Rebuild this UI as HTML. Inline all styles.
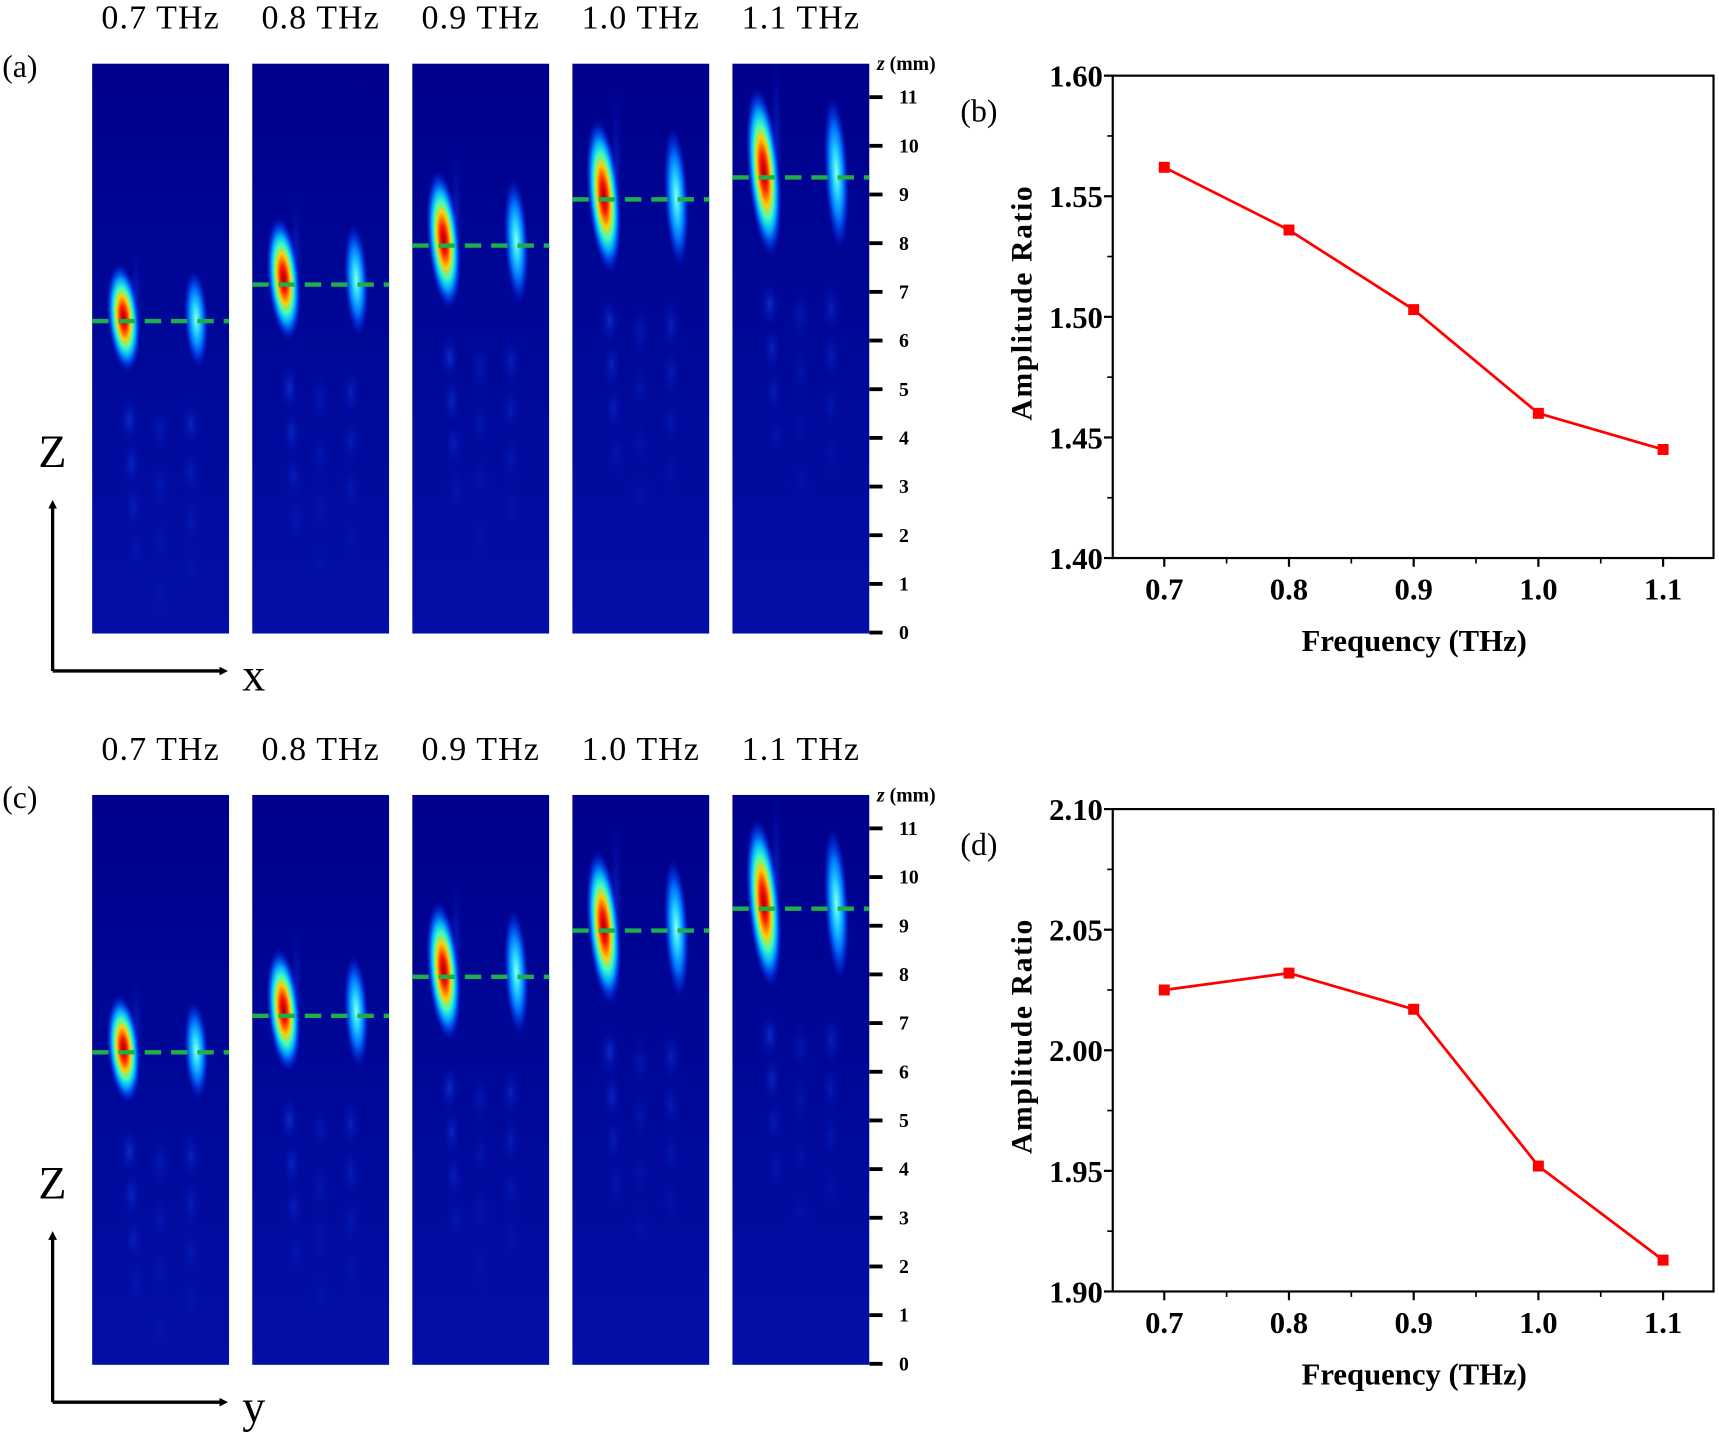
<!DOCTYPE html>
<html><head><meta charset="utf-8"><style>
html,body{margin:0;padding:0;background:#fff;}
svg{display:block;}
</style></head><body>
<svg id="fig" width="1719" height="1434" viewBox="0 0 1568 1308" xmlns="http://www.w3.org/2000/svg">
<defs>
<linearGradient id="bg" x1="0" y1="0" x2="0" y2="1">
<stop offset="0" stop-color="#00008c"/><stop offset="0.65" stop-color="#000a9c"/><stop offset="1" stop-color="#040fa6"/>
</linearGradient>
<radialGradient id="mainG">
<stop offset="0" stop-color="#a00000"/><stop offset="0.2" stop-color="#ff1a00"/>
<stop offset="0.4" stop-color="#ffd000"/><stop offset="0.55" stop-color="#40ffc0"/>
<stop offset="0.7" stop-color="#00a8ff"/><stop offset="0.85" stop-color="#0040f0" stop-opacity="0.7"/>
<stop offset="1" stop-color="#0010c0" stop-opacity="0"/>
</radialGradient>
<radialGradient id="secG">
<stop offset="0" stop-color="#90ffe8"/><stop offset="0.3" stop-color="#20d0ff"/>
<stop offset="0.6" stop-color="#0070ff"/><stop offset="0.85" stop-color="#0030e0" stop-opacity="0.5"/>
<stop offset="1" stop-color="#0010c0" stop-opacity="0"/>
</radialGradient>
<radialGradient id="faintG">
<stop offset="0" stop-color="#1050ff" stop-opacity="0.8"/><stop offset="1" stop-color="#0010c0" stop-opacity="0"/>
</radialGradient>
<marker id="arr" markerWidth="8" markerHeight="8" refX="4" refY="4" orient="auto" markerUnits="userSpaceOnUse" viewBox="0 0 8 8">
<path d="M0,0 L8,4 L0,8 z" fill="#000"/></marker>
</defs>
<g id="root"></g>
</svg>
<script>
// ---- data ----
const freqLabels = ["0.7 THz","0.8 THz","0.9 THz","1.0 THz","1.1 THz"];
const freqs = [0.7, 0.8, 0.9, 1.0, 1.1];
const focusZ = [6.4, 7.2, 8.0, 8.9, 9.4];
const focusZy = [6.4, 7.15, 7.95, 8.9, 9.35];
const ratioB = [1.562, 1.536, 1.503, 1.460, 1.445];
const ratioD = [2.025, 2.032, 2.017, 1.952, 1.913];
const zTicks = [0,1,2,3,4,5,6,7,8,9,10,11];
const xTickLabels = ["0.7","0.8","0.9","1.0","1.1"];
const yTicksB = [1.40,1.45,1.50,1.55,1.60];
const yTicksD = [1.90,1.95,2.00,2.05,2.10];

const NS = "http://www.w3.org/2000/svg";
const root = document.getElementById("root");
function mk(tag, attrs, parent, text){
  const e = document.createElementNS(NS, tag);
  for (const k in attrs) e.setAttribute(k, attrs[k]);
  if (text !== undefined) e.textContent = text;
  (parent||root).appendChild(e);
  return e;
}
const serif = '"Liberation Serif", serif';
const panelX = [84,230,376,522,668];
const PW = 125;

function heatRow(top, label, axisLetter, focusArr, rowName){
  const g = mk("g", {});
  
  
  const bottom = top + 520;
  const zy = z => (top+519) - z*44.4;
  freqLabels.forEach((t,i)=>{
    const tx = mk("text",{x:panelX[i]+PW/2, y:top-32, "font-family":serif, "font-size":31, "letter-spacing":"1", "text-anchor":"middle"}, g, t);
    
    
  });
  const lb = mk("text",{x:2,y:top+12,"font-family":serif,"font-size":29},g,label);
  
  
  freqs.forEach((f,i)=>{
    const x0 = panelX[i];
    const pg = mk("g",{},g);
    
    
    const cid = rowName+"clip"+i;
    const cp = mk("clipPath",{id:cid},pg);
    mk("rect",{x:x0,y:top,width:PW,height:520},cp);
    const ig = mk("g",{"clip-path":"url(#"+cid+")"},pg);
    mk("rect",{x:x0,y:top,width:PW,height:520,fill:"url(#bg)"},ig);
    const cy = zy(focusArr[i]);
    const ry = 50 + i*7;
    for (let k=1;k<=4;k++){
      mk("ellipse",{cx:x0+32+k*2, cy:cy+ry+k*40, rx:9, ry:22, fill:"url(#faintG)", opacity:0.75-k*0.13},ig);
      mk("ellipse",{cx:x0+90, cy:cy+ry+k*44, rx:9, ry:24, fill:"url(#faintG)", opacity:0.55-k*0.1},ig);
      mk("ellipse",{cx:x0+62, cy:cy+ry+k*50, rx:10, ry:26, fill:"url(#faintG)", opacity:0.35-k*0.06},ig);
    }
    mk("ellipse",{cx:x0+40, cy:cy-ry*0.3, rx:6, ry:ry*1.2, fill:"url(#faintG)", opacity:0.5},ig);
    mk("ellipse",{cx:x0+29, cy:cy-3, rx:15, ry:ry, fill:"url(#mainG)", transform:`rotate(-5 ${x0+29} ${cy})`},ig);
    mk("ellipse",{cx:x0+95, cy:cy-2, rx:11, ry:ry*0.9, fill:"url(#secG)", transform:`rotate(-3 ${x0+95} ${cy})`},ig);
    const fl = mk("line",{x1:x0, x2:x0+PW, y1:zy(focusZy[i]), y2:zy(focusZy[i]), stroke:"#1db04a", "stroke-width":4, "stroke-dasharray":"15,9"},pg);
    
    
  });
  const ax = mk("g",{},g);
  
  
  zTicks.forEach(z=>{
    mk("line",{x1:793,x2:805,y1:zy(z),y2:zy(z),stroke:"#000","stroke-width":3.5},ax);
    mk("text",{x:820,y:zy(z)+6,"font-family":serif,"font-size":18,"font-weight":"bold"},ax,String(z));
  });
  const zt = mk("text",{x:800,y:top+6,"font-family":serif,"font-size":18,"font-weight":"bold"},ax);
  mk("tspan",{"font-style":"italic"},zt,"z");
  mk("tspan",{},zt," (mm)");
  const ca = mk("g",{},g);
  
  
  mk("line",{x1:48,y1:bottom+34,x2:48,y2:bottom-118,stroke:"#000","stroke-width":3,"marker-end":"url(#arr)"},ca);
  mk("line",{x1:48,y1:bottom+34,x2:204,y2:bottom+34,stroke:"#000","stroke-width":3,"marker-end":"url(#arr)"},ca);
  mk("text",{x:35,y:bottom-152,"font-family":serif,"font-size":42},ca,"Z");
  mk("text",{x:221,y:bottom+52,"font-family":serif,"font-size":42},ca,axisLetter);
}

function linePlot(top, ticks, vals, label, name){
  const g = mk("g",{});
  
  
  const L=1015, R=1563, T=top, B=top+440;
  const x = f => 1062 + (f-0.7)/0.1*113.75;
  const y0 = ticks[0], y1 = ticks[ticks.length-1];
  const y = v => B - (v-y0)/(y1-y0)*(B-T);
  mk("rect",{x:L,y:T,width:R-L,height:B-T,fill:"none",stroke:"#000","stroke-width":2},g);
  ticks.forEach((t,i)=>{
    mk("line",{x1:L-8,x2:L,y1:y(t),y2:y(t),stroke:"#000","stroke-width":2},g);
    mk("text",{x:L-9,y:y(t)+10,"font-family":serif,"font-size":28,"font-weight":"bold","text-anchor":"end"},g,t.toFixed(2));
    if (i<ticks.length-1){ const m=(t+ticks[i+1])/2; mk("line",{x1:L-5,x2:L,y1:y(m),y2:y(m),stroke:"#000","stroke-width":1.5},g); }
  });
  freqs.forEach((f,i)=>{
    mk("line",{x1:x(f),x2:x(f),y1:B,y2:B+8,stroke:"#000","stroke-width":2},g);
    mk("text",{x:x(f),y:B+38,"font-family":serif,"font-size":28,"font-weight":"bold","text-anchor":"middle"},g,xTickLabels[i]);
    if (i<freqs.length-1) mk("line",{x1:x(f+0.05),x2:x(f+0.05),y1:B,y2:B+5,stroke:"#000","stroke-width":1.5},g);
  });
  const yl = mk("text",{x:0,y:0,"font-family":serif,"font-size":27,"font-weight":"bold","letter-spacing":"1.5","text-anchor":"middle",transform:`translate(941 ${(T+B)/2-13}) rotate(-90)`},g,"Amplitude Ratio");
  
  
  const xl = mk("text",{x:1290,y:B+85,"font-family":serif,"font-size":28,"font-weight":"bold","text-anchor":"middle"},g,"Frequency (THz)");
  
  
  const pts = vals.map((v,i)=>x(freqs[i])+","+y(v)).join(" ");
  const pl = mk("polyline",{points:pts,fill:"none",stroke:"#ff0000","stroke-width":2.5},g);
  
  
  vals.forEach((v,i)=>{
    const r = mk("rect",{x:x(freqs[i])-5,y:y(v)-5,width:10,height:10,fill:"#ff0000"},g);
    
    
  });
  const pl2 = mk("text",{x:876,y:T+42,"font-family":serif,"font-size":29},g,name==="plot-b"?"(b)":"(d)");
  
  
}

heatRow(58, "(a)", "x", focusZ, "row-a");
heatRow(725, "(c)", "y", focusZ, "row-c");
linePlot(69, yTicksB, ratioB, "Amplitude Ratio", "plot-b");
linePlot(738, yTicksD, ratioD, "Amplitude Ratio", "plot-d");
</script>
</body></html>
